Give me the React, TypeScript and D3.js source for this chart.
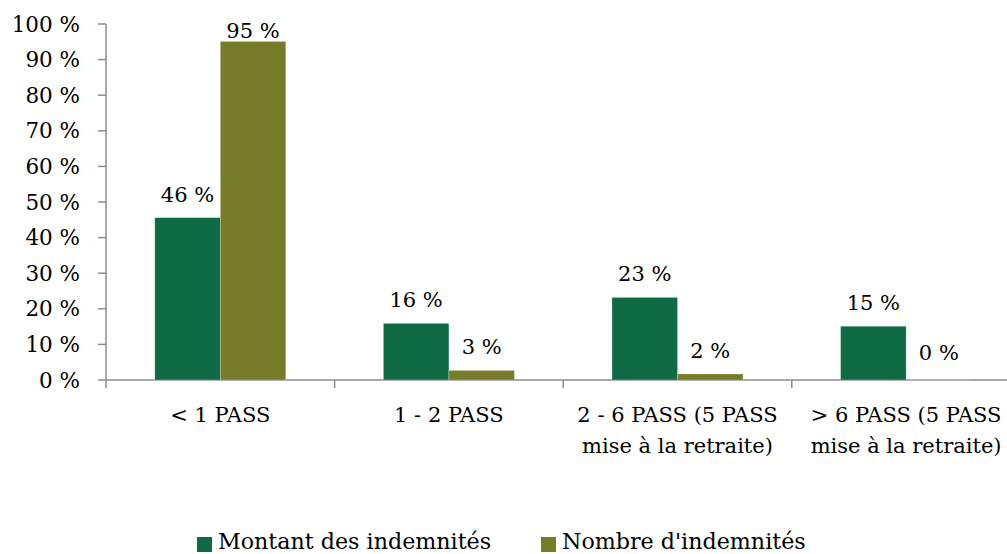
import * as d3 from "d3";

const categories = [
  ["< 1 PASS"],
  ["1 - 2 PASS"],
  ["2 - 6 PASS (5 PASS", "mise à la retraite)"],
  ["> 6 PASS (5 PASS", "mise à la retraite)"],
];
const seriesNames = ["Montant des indemnités", "Nombre d'indemnités"];
const montant = [45.6, 15.9, 23.2, 15.1];
const nombre = [95.1, 2.7, 1.7, 0.2];
const montantLabels = ["46 %", "16 %", "23 %", "15 %"];
const nombreLabels = ["95 %", "3 %", "2 %", "0 %"];
const yTicks = [0, 10, 20, 30, 40, 50, 60, 70, 80, 90, 100];

const colors = ["#0e6b46", "#767c28"];
const font = "'DejaVu Serif', serif";

export default function App() {
  const width = 1007;
  const height = 554;
  const left = 106;
  const step = 228.6;
  const top = 24;
  const bottom = 380;

  const keys = categories.map((_, i) => String(i));
  const x = d3
    .scaleBand<string>()
    .domain(keys)
    .range([left, left + step * keys.length])
    .padding(0);
  const xs = d3
    .scaleBand<string>()
    .domain(["0", "1"])
    .range([0, x.bandwidth()])
    .paddingInner(0)
    .paddingOuter(0.745);
  const y = d3.scaleLinear().domain([0, 100]).range([bottom, top]);

  const series = [montant, nombre];
  const labels = [montantLabels, nombreLabels];

  return (
    <svg width={width} height={height} style={{ display: "block" }}>
      <style>{`body{margin:0}`}</style>
      <rect width={width} height={height} fill="#fff" />
      {/* axes */}
      <g stroke="#8c8c8c" strokeWidth={1.5}>
        <line x1={left} x2={left} y1={y(100)} y2={bottom + 8} />
        {yTicks.map((t) => (
          <line key={t} x1={left - 8} x2={left} y1={y(t)} y2={y(t)} />
        ))}
        <line x1={left} x2={width} y1={bottom} y2={bottom} />
        {keys.slice(1).map((k) => (
          <line key={k} x1={x(k)!} x2={x(k)!} y1={bottom} y2={bottom + 8} />
        ))}
      </g>
      <g fontFamily={font} fontSize={21.5} fill="#000" textAnchor="end">
        {yTicks.map((t) => (
          <text key={t} x={80} y={y(t) + 7.5}>
            {t} %
          </text>
        ))}
      </g>
      {/* bars */}
      {series.map((vals, s) => (
        <g key={s}>
          {vals.map((v, i) => {
            const bx = x(String(i))! + xs(String(s))!;
            return (
              <rect
                key={i}
                x={bx}
                y={y(v)}
                width={xs.bandwidth()}
                height={bottom - y(v)}
                fill={colors[s]}
                stroke="#ffffff"
                strokeOpacity={0.35}
                strokeWidth={0.7}
              />
            );
          })}
        </g>
      ))}
      {/* value labels */}
      <g fontFamily={font} fontSize={21} fill="#000" textAnchor="middle">
        {series.map((vals, s) =>
          vals.map((v, i) => {
            const cx = x(String(i))! + xs(String(s))! + xs.bandwidth() / 2;
            const off = v < 1 ? 19 : 16;
            const ly = Math.max(y(v) - off, 38);
            return (
              <text key={`${s}-${i}`} x={cx} y={ly}>
                {labels[s][i]}
              </text>
            );
          })
        )}
      </g>
      {/* category labels */}
      <g fontFamily={font} fontSize={21} fill="#000" textAnchor="middle">
        {categories.map((lines, i) => (
          <text key={i} x={x(String(i))! + x.bandwidth() / 2} y={422}>
            {lines.map((l, j) => (
              <tspan key={j} x={x(String(i))! + x.bandwidth() / 2} dy={j === 0 ? 0 : 31}>
                {l}
              </tspan>
            ))}
          </text>
        ))}
      </g>
      {/* legend */}
      <g fontFamily={font} fontSize={22.2} fill="#000">
        {seriesNames.map((n, s) => {
          const lx = s === 0 ? 197 : 541;
          return (
            <g key={n}>
              <rect x={lx} y={537} width={15} height={15} fill={colors[s]} />
              <text x={lx + 21} y={549}>
                {n}
              </text>
            </g>
          );
        })}
      </g>
    </svg>
  );
}
